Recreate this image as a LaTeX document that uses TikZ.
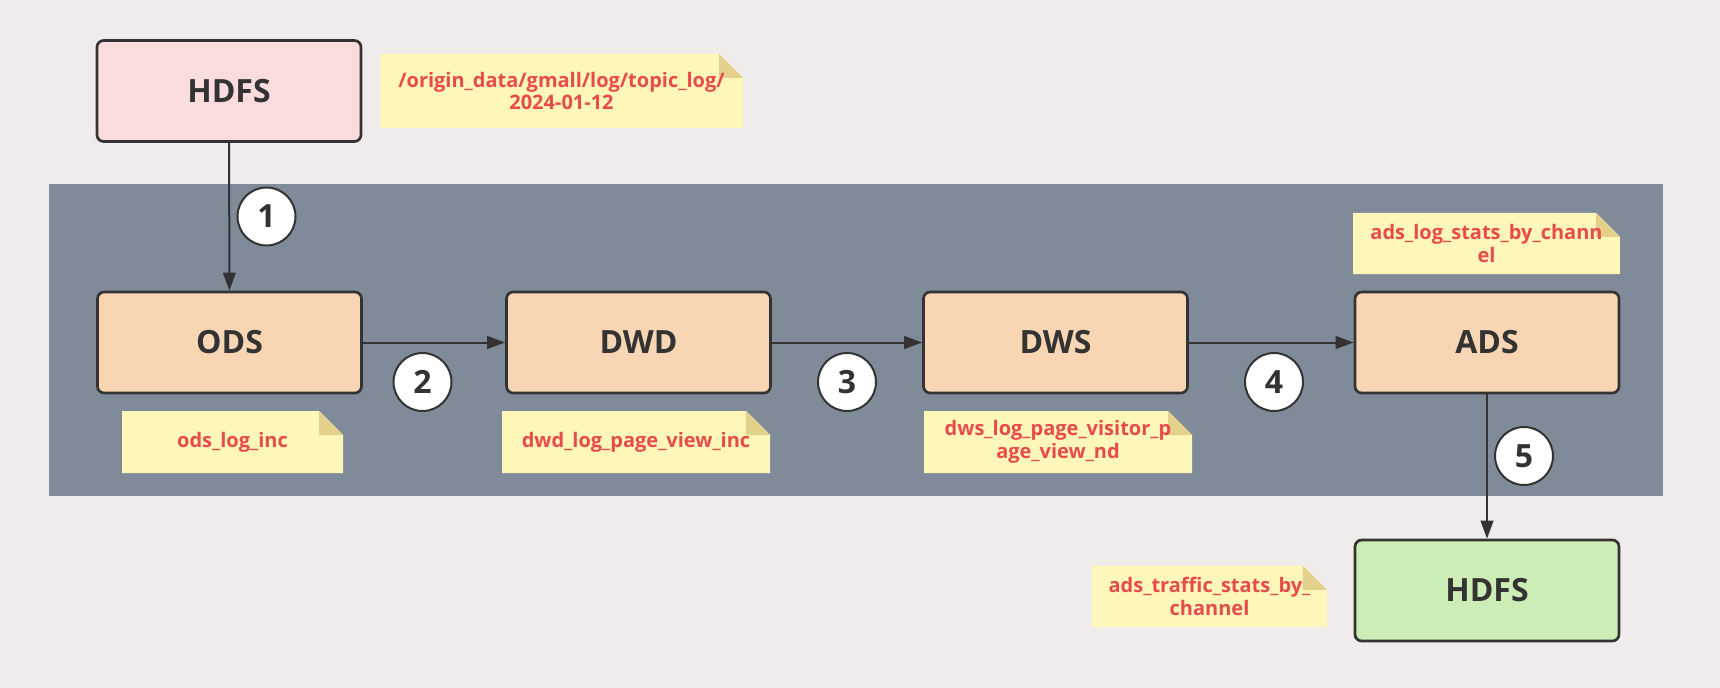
\documentclass[tikz,border=0pt]{standalone}
\usepackage{fontspec}
\setmainfont{Open Sans}
\usepackage{tikz}
\usetikzlibrary{arrows.meta}
\usepackage{xcolor}
\definecolor{bgpage}{HTML}{F0ECEB}
\definecolor{bandgray}{HTML}{808B99}
\definecolor{linedark}{HTML}{333333}
\definecolor{hdfspink}{HTML}{FADCDC}
\definecolor{layerpeach}{HTML}{F8D5B3}
\definecolor{hdfsgreen}{HTML}{CCEDB5}
\definecolor{memoyellow}{HTML}{FFF6BA}
\definecolor{memofold}{HTML}{E3D08A}
\definecolor{memored}{HTML}{E84B4B}
\tikzset{
    layer/.style={
        draw=linedark,
        line width=2pt,
        rounded corners=5pt,
        minimum width=198pt,
        minimum height=75.75pt,
        font=\fontsize{24}{28}\selectfont\bfseries,
        text=linedark
    },
    stepnum/.style={
        draw=linedark,
        circle,
        fill=white,
        line width=1.5pt,
        minimum size=43.5pt,
        inner sep=0pt,
        font=\fontsize{24}{28}\selectfont\bfseries,
        text=linedark
    },
    memo/.style={
        inner sep=0pt,
        align=center,
        font=\fontsize{15}{17}\selectfont\bfseries,
        text=memored,
        path picture={
            \fill[memoyellow] (path picture bounding box.south west)
                -- (path picture bounding box.north west)
                -- ([xshift=-18pt]path picture bounding box.north east)
                -- ([yshift=-18pt]path picture bounding box.north east)
                -- (path picture bounding box.south east) -- cycle;
            \fill[memofold] ([xshift=-18pt]path picture bounding box.north east)
                -- ([xshift=-18pt,yshift=-18pt]path picture bounding box.north east)
                -- ([yshift=-18pt]path picture bounding box.north east) -- cycle;
        }
    },
    flow/.style={
        draw=linedark,
        line width=1.5pt,
        -{Triangle[length=13.5pt, width=9.5pt]}
    }
}

\begin{document}
\begin{tikzpicture}[x=0.75pt, y=-0.75pt]
    % Page and warehouse band
    \fill[bgpage] (0,0) rectangle (1720,688);
    \fill[bandgray] (49,184) rectangle (1663,496);

    % Source and sink
    \node[layer, fill=hdfspink] (H1) at (229,91) {HDFS};
    \node[layer, fill=hdfsgreen] (H2) at (1487,590.5) {HDFS};

    % Warehouse layers
    \node[layer, fill=layerpeach] (ODS) at (229.5,342.5) {ODS};
    \node[layer, fill=layerpeach] (DWD) at (638.5,342.5) {DWD};
    \node[layer, fill=layerpeach] (DWS) at (1055.5,342.5) {DWS};
    \node[layer, fill=layerpeach] (ADS) at (1487,342.5) {ADS};

    % Table notes
    \node[memo, minimum width=272.25pt, minimum height=55.5pt] (N0) at (561.5,91) {/origin\_data/gmall/log/topic\_log/\\2024-01-12};
    \node[memo, minimum width=165.75pt, minimum height=46.5pt] (N1) at (232.5,442) {ods\_log\_inc};
    \node[memo, minimum width=201pt, minimum height=46.5pt] (N2) at (636,442) {dwd\_log\_page\_view\_inc};
    \node[memo, minimum width=201pt, minimum height=46.5pt] (N3) at (1058,442) {dws\_log\_page\_visitor\_p\\age\_view\_nd};
    \node[memo, minimum width=200pt, minimum height=46pt] (N4) at (1486.5,243.5) {ads\_log\_stats\_by\_chann\\el};
    \node[memo, minimum width=176pt, minimum height=46pt] (N5) at (1209.5,596.5) {ads\_traffic\_stats\_by\_\\channel};

    % Data flow
    \draw[flow] (H1) -- (ODS);
    \draw[flow] (ODS) -- (DWD);
    \draw[flow] (DWD) -- (DWS);
    \draw[flow] (DWS) -- (ADS);
    \draw[flow] (ADS) -- (H2);

    % Step numbers
    \node[stepnum] (S1) at (266.5,216.5) {1};
    \node[stepnum] (S2) at (422.5,382) {2};
    \node[stepnum] (S3) at (847,382) {3};
    \node[stepnum] (S4) at (1274,382) {4};
    \node[stepnum] (S5) at (1524,456) {5};
\end{tikzpicture}
\end{document}
